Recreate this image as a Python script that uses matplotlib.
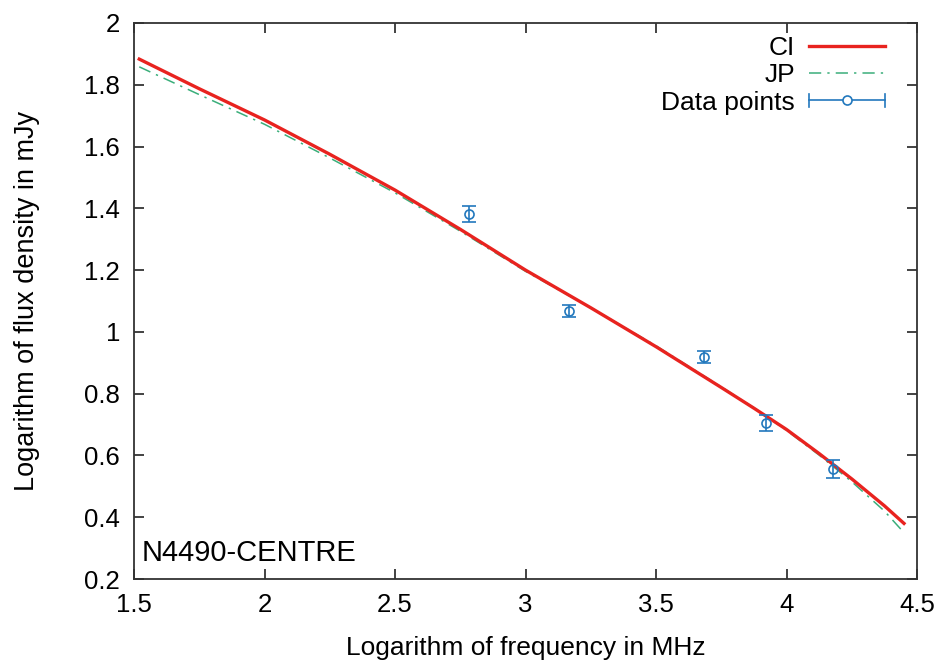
import matplotlib
matplotlib.use("Agg")
import matplotlib.pyplot as plt
from matplotlib.ticker import FuncFormatter, MultipleLocator
from matplotlib.legend_handler import HandlerBase
from matplotlib.lines import Line2D

plt.rcParams['font.family'] = ['Liberation Sans', 'DejaVu Sans']

# Model curves
curve_x = [1.52, 1.75, 2.0, 2.25, 2.5, 2.75, 3.0, 3.25, 3.5, 3.75, 3.875, 4.0, 4.125, 4.25, 4.375, 4.45]
ci_y = [1.883, 1.787, 1.686, 1.575, 1.459, 1.332, 1.200, 1.078, 0.952, 0.820, 0.753, 0.684, 0.606, 0.524, 0.437, 0.380]
jp_y = [1.858, 1.768, 1.672, 1.563, 1.450, 1.326, 1.196, 1.078, 0.955, 0.822, 0.754, 0.681, 0.601, 0.515, 0.420, 0.350]

# Data points
data_x = [2.783, 3.167, 3.684, 3.921, 4.178]
data_y = [1.382, 1.068, 0.919, 0.705, 0.556]
data_err = [0.026, 0.020, 0.020, 0.025, 0.030]

BLUE = '#2278bd'


class HorizErrHandler(HandlerBase):
    def create_artists(self, legend, orig_handle, xdescent, ydescent, width,
                       height, fontsize, trans):
        y = height / 2.0 - ydescent
        x0, x1 = -xdescent, -xdescent + width
        cap = height * 0.35
        arts = [
            Line2D([x0, x1], [y, y], color=BLUE, lw=1.2),
            Line2D([x0, x0], [y - cap, y + cap], color=BLUE, lw=1.2),
            Line2D([x1, x1], [y - cap, y + cap], color=BLUE, lw=1.2),
            Line2D([(x0 + x1) / 2], [y], marker='o', mfc='white', mec=BLUE,
                   ms=6.5, mew=1.2, ls='none'),
        ]
        for a in arts:
            a.set_transform(trans)
        return arts


fig = plt.figure(figsize=(9.42, 6.6), dpi=100)
ax = fig.add_axes([0.1423, 0.1227, 0.8312, 0.8425])

l_ci, = ax.plot(curve_x, ci_y, color='#e8231f', lw=2.4, label='CI', zorder=3)
l_jp, = ax.plot(curve_x, jp_y, color='#3aae7a', lw=1.1, ls=(0, (8, 4, 1.5, 4)), label='JP', zorder=2)
eb = ax.errorbar(data_x, data_y, yerr=data_err, fmt='o', mfc='none', mec=BLUE,
                 ecolor=BLUE, color=BLUE, ms=6.5, mew=1.2, elinewidth=1.2,
                 capsize=5, capthick=1.2, label='Data points', zorder=4)

ax.set_xlim(1.5, 4.5)
ax.set_ylim(0.2, 2.0)
ax.xaxis.set_major_locator(MultipleLocator(0.5))
ax.yaxis.set_major_locator(MultipleLocator(0.2))
fmt = FuncFormatter(lambda v, p: ('%.1f' % v).rstrip('0').rstrip('.'))
ax.xaxis.set_major_formatter(fmt)
ax.yaxis.set_major_formatter(fmt)

ax.tick_params(direction='in', length=7, width=1.2, top=True, right=True,
               labelsize=18.5, pad=10, colors='#222222', labelcolor='black')
for s in ax.spines.values():
    s.set_color('#333333')
    s.set_linewidth(1.3)

ax.set_xlabel('Logarithm of frequency in MHz', fontsize=19, labelpad=14)
ax.set_ylabel('Logarithm of flux density in mJy', fontsize=19.5, labelpad=32)

ax.text(1.53, 0.283, 'N4490-CENTRE', fontsize=21, ha='left', va='center')

proxy = Line2D([], [], color=BLUE)
leg = ax.legend([l_ci, l_jp, proxy], ['CI', 'JP', 'Data points'],
                handler_map={proxy: HorizErrHandler()},
                loc='upper right', frameon=False, markerfirst=False, fontsize=19,
                handlelength=2.85, handletextpad=0.55, labelspacing=0.12,
                borderaxespad=0.0, bbox_to_anchor=(0.972, 0.995))
for t in leg.get_texts():
    t.set_ha('right')

fig.savefig('out.png', dpi=100)
